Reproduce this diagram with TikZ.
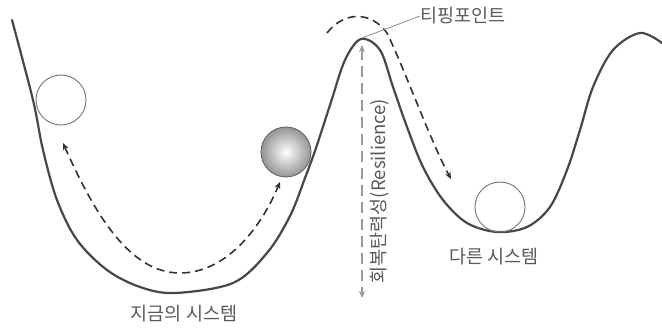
\documentclass[tikz,border=0pt]{standalone}
\usepackage{fontspec}
\setmainfont{Noto Sans CJK KR}
\usetikzlibrary{arrows.meta}
\begin{document}
\begin{tikzpicture}[x=1pt,y=-1pt,
  landscape/.style={line width=2.2pt, draw=black!72, line join=round, line cap=round},
  ballempty/.style={circle, draw=black!55, line width=0.9pt, minimum size=50pt, inner sep=0pt},
  ballfull/.style={circle, draw=black!60, line width=0.9pt, minimum size=50pt, inner sep=0pt, inner color=white, outer color=black!42},
  flowarrow/.style={dash pattern=on 8pt off 5pt, line width=1.6pt, draw=black!80, {Stealth[length=7pt,width=6pt]}-{Stealth[length=7pt,width=6pt]}},
  downarrow/.style={dash pattern=on 8pt off 5pt, line width=1.6pt, draw=black!80, -{Stealth[length=7pt,width=6pt]}},
  resarrow/.style={dash pattern=on 11pt off 6pt, line width=2.2pt, draw=black!40, {Stealth[length=7pt,width=6pt]}-{Stealth[length=7pt,width=6pt]}},
  lbl/.style={text=black!65, font=\fontsize{18.5}{21}\selectfont, inner sep=0pt}
]
\useasboundingbox (0,0) rectangle (662,331);

% landscape curve
\draw[landscape] plot[smooth, tension=0.55] coordinates {
  (12,20) (33,100) (43,150) (57,200) (77,240) (107,270) (140,287) (175,293)
  (233,283) (267,253) (290,216) (305,178) (316,148) (331,102) (345,60) (361,39)
  (380,50) (393,87) (407,127) (423,167) (443,200) (467,223) (497,232) (527,227)
  (550,207) (567,170) (580,130) (593,87) (613,50) (640,33) (662,43)};

% balls
\node[ballempty] (lball) at (61,100) {};
\node[ballfull] (gball) at (286,152) {};
\node[ballempty] (rball) at (500,207) {};

% coordinates
\coordinate (la) at (63,143);
\coordinate (lb) at (180,273);
\coordinate (lc) at (280,182);
\coordinate (ta) at (327,33);
\coordinate (tb) at (387,33);
\coordinate (tc) at (451,179);
\coordinate (peak) at (362,38);
\coordinate (ra) at (362,45);
\coordinate (rb) at (362,298);

% dashed arrows
\draw[flowarrow] (la) .. controls (95,215) and (130,273) .. (lb)
                      .. controls (225,273) and (260,230) .. (lc);
\draw[downarrow] (ta) .. controls (345,10) and (372,12) .. (tb)
                      .. controls (405,70) and (430,140) .. (tc);
\draw[resarrow] (ra) -- (rb);

% labels
\node[lbl, anchor=west] (tip) at (420,16) {티핑포인트};
\draw[black!45, line width=0.8pt] (peak) -- (tip.west);
\node[lbl, rotate=90] (res) at (380,191) {회복탄력성(Resilience)};
\node[lbl] (now) at (184,314) {지금의 시스템};
\node[lbl] (other) at (494,257) {다른 시스템};
\end{tikzpicture}
\end{document}
